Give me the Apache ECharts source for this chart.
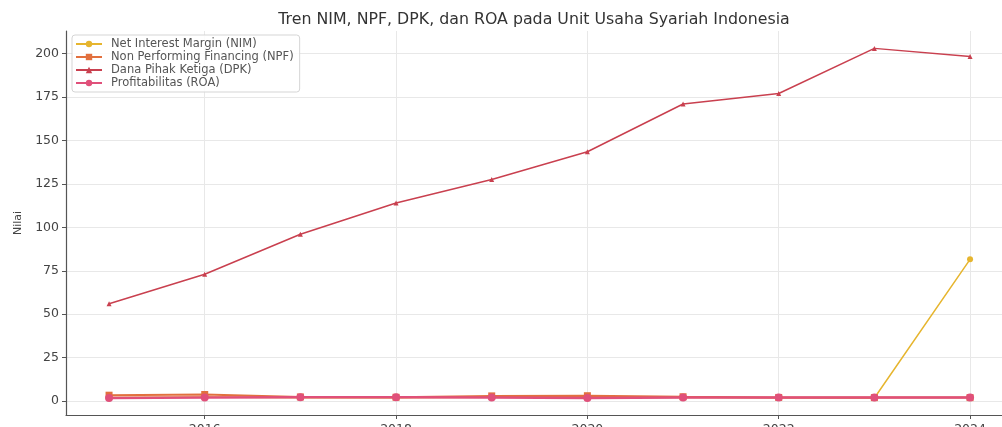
<!DOCTYPE html>
<html>
<head>
<meta charset="utf-8">
<script src="https://cdn.jsdelivr.net/npm/echarts@6/dist/echarts.min.js"></script>
<style>
  html, body { margin: 0; padding: 0; background: #fff; }
  #chart { width: 1002px; height: 427px; }
</style>
</head>
<body>
<div id="chart"></div>
<script>
// data
const years = [2015, 2016, 2017, 2018, 2019, 2020, 2021, 2022, 2023, 2024];
const nim = [2.0, 2.4, 1.9, 1.9, 2.2, 2.2, 2.0, 1.9, 1.8, 81.6];
const npf = [3.4, 3.8, 2.4, 2.2, 3.0, 3.1, 2.5, 2.1, 2.0, 2.0];
const dpk = [56, 73, 96, 114, 127.5, 143.5, 171, 177, 203, 198.3];
const roa = [1.8, 2.0, 2.2, 2.2, 2.0, 1.8, 2.1, 2.0, 2.0, 2.0];
const yTicks = [0, 25, 50, 75, 100, 125, 150, 175, 200];
const xTicks = [2016, 2018, 2020, 2022, 2024];

const chart = echarts.init(document.getElementById('chart'));

const pairs = (vals) => years.map((y, i) => [y, vals[i]]);

const lineSeries = (name, vals, color, symbol, size, width) => ({
  name: name,
  type: 'line',
  data: pairs(vals),
  symbol: symbol,
  symbolSize: size,
  showSymbol: true,
  lineStyle: { color: color, width: width },
  itemStyle: { color: color },
  animation: false,
});

chart.setOption({
  animation: false,
  title: {
    text: 'Tren NIM, NPF, DPK, dan ROA pada Unit Usaha Syariah Indonesia',
    left: 529,
    textAlign: 'center',
    top: 7,
    textStyle: { fontFamily: 'DejaVu Sans', fontSize: 15.8, fontWeight: 'normal', color: '#333' },
  },
  legend: {
    orient: 'vertical',
    left: 72,
    top: 35,
    padding: [3, 6, 3, 3],
    itemWidth: 26,
    itemHeight: 8,
    itemGap: 1,
    backgroundColor: 'rgba(255,255,255,0.85)',
    borderColor: '#d5d5d5',
    borderWidth: 1,
    borderRadius: 3,
    textStyle: { fontFamily: 'DejaVu Sans', fontSize: 11.5, lineHeight: 12, color: '#555', padding: [0, 0, 0, 4] },
    data: [
      'Net Interest Margin (NIM)',
      'Non Performing Financing (NPF)',
      'Dana Pihak Ketiga (DPK)',
      'Profitabilitas (ROA)',
    ],
  },
  grid: { left: 66, right: 0, top: 31, bottom: 12, outerBoundsMode: 'none' },
  xAxis: {
    type: 'value',
    min: 2014.55,
    max: 2024.334,
    axisLine: { show: true, onZero: false, lineStyle: { color: '#555', width: 1.2 } },
    axisTick: { show: true, length: 4, customValues: xTicks, lineStyle: { color: '#555' } },
    axisLabel: {
      customValues: xTicks,
      formatter: (v) => String(v),
      margin: 8,
      fontFamily: 'DejaVu Sans',
      fontSize: 12.5,
      color: '#444',
    },
    splitLine: { show: true, lineStyle: { color: '#e8e8e8', width: 1 } },
  },
  yAxis: {
    type: 'value',
    min: -8,
    max: 213,
    name: 'Nilai',
    nameLocation: 'middle',
    nameGap: 42,
    nameTextStyle: { fontFamily: 'DejaVu Sans', fontSize: 11, color: '#444' },
    axisLine: { show: true, onZero: false, lineStyle: { color: '#555', width: 1.2 } },
    axisTick: { show: true, length: 4, customValues: yTicks, lineStyle: { color: '#555' } },
    axisLabel: {
      customValues: yTicks,
      margin: 7,
      fontFamily: 'DejaVu Sans',
      fontSize: 12.5,
      color: '#444',
    },
    splitLine: { show: true, lineStyle: { color: '#e8e8e8', width: 1 } },
  },
  series: [
    lineSeries('Net Interest Margin (NIM)', nim, '#e6b52e', 'circle', 6, 1.5),
    lineSeries('Non Performing Financing (NPF)', npf, '#e2703e', 'rect', 7, 2),
    lineSeries('Dana Pihak Ketiga (DPK)', dpk, '#c9404f', 'triangle', 5, 1.5),
    lineSeries('Profitabilitas (ROA)', roa, '#e0507a', 'circle', 8, 2.5),
  ],
});
</script>
</body>
</html>
